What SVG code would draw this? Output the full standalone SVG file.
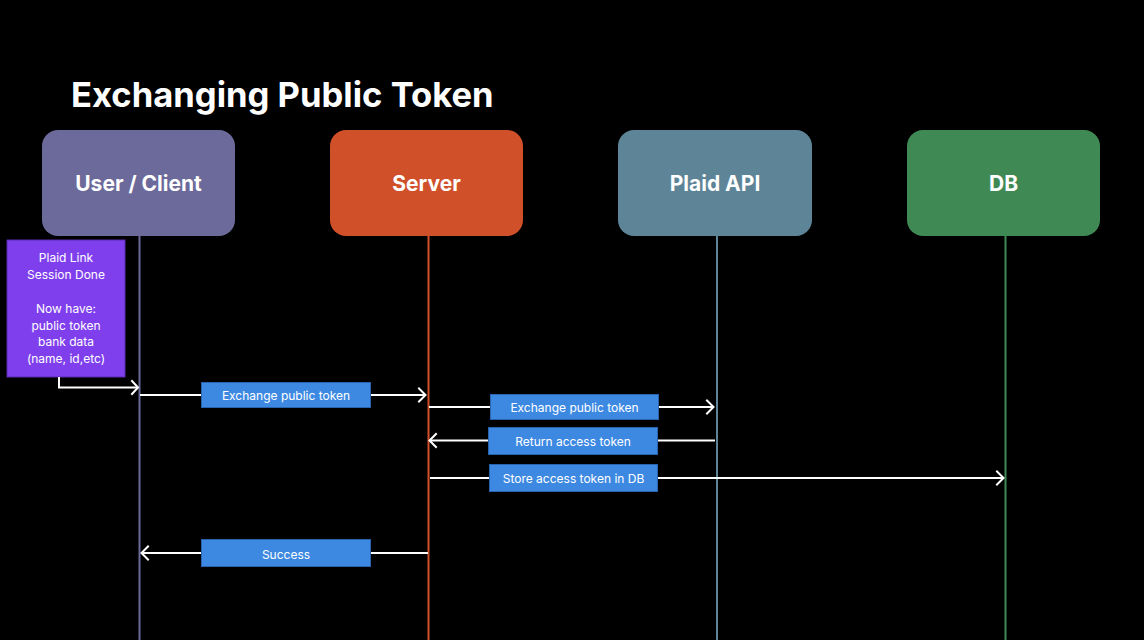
<svg xmlns="http://www.w3.org/2000/svg" width="1144" height="640" viewBox="0 0 1144 640">
<style>
.title{font-family:Inter,"Liberation Sans",sans-serif;font-weight:700;font-size:34.6px;fill:#fff}
.nl{font-family:Inter,"Liberation Sans",sans-serif;font-weight:700;font-size:21px;fill:#fff;text-anchor:middle;dominant-baseline:central}
.note{font-family:Inter,"Liberation Sans",sans-serif;font-size:12px;fill:#fff;text-anchor:middle}
.ml{font-family:Inter,"Liberation Sans",sans-serif;font-size:12px;fill:#fff;text-anchor:middle;dominant-baseline:central}
.lb{fill:#3D89E2;stroke:#2A64AE;stroke-width:1}
.msg{stroke:#fff;stroke-width:2;fill:none}
.ah{stroke:#fff;stroke-width:2;fill:none;stroke-linecap:square}
</style>
<rect width="1144" height="640" fill="#000"/>
<text class="title" x="71" y="107">Exchanging Public Token</text>
<g id="lifelines">
<line x1="139.5" y1="236" x2="139.5" y2="640" stroke="#6C6A9A" stroke-width="2"/>
<line x1="428.5" y1="236" x2="428.5" y2="640" stroke="#D0502A" stroke-width="2"/>
<line x1="717" y1="236" x2="717" y2="640" stroke="#5E8497" stroke-width="2"/>
<line x1="1005.5" y1="236" x2="1005.5" y2="640" stroke="#3F8A54" stroke-width="2"/>
</g>
<g id="node-user"><rect x="42" y="130" width="193" height="106" rx="16" fill="#6C6A9A"/><text class="nl" x="138.5" y="183">User / Client</text></g>
<g id="node-server"><rect x="330" y="130" width="193" height="106" rx="16" fill="#D0502A"/><text class="nl" x="426.5" y="183">Server</text></g>
<g id="node-plaid"><rect x="618" y="130" width="194" height="106" rx="16" fill="#5E8497"/><text class="nl" x="715" y="183">Plaid API</text></g>
<g id="node-db"><rect x="907" y="130" width="193" height="106" rx="16" fill="#3F8A54"/><text class="nl" x="1003.5" y="183">DB</text></g>
<g id="note">
<rect x="7" y="240" width="118" height="137" fill="#7F3FEC" stroke="#5A2BB0" stroke-width="1"/>
<text class="note" x="66" y="262">Plaid Link</text>
<text class="note" x="66" y="279">Session Done</text>
<text class="note" x="66" y="313">Now have:</text>
<text class="note" x="66" y="330">public token</text>
<text class="note" x="66" y="346">bank data</text>
<text class="note" x="66" y="363">(name, id,etc)</text>
</g>
<g id="connectors">
<polyline class="msg" points="59,377 59,387.5 137,387.5"/>
<polyline class="ah" points="132,381 138,387.5 132,394"/>
<line class="msg" x1="140" y1="395" x2="424" y2="395"/>
<polyline class="ah" points="419,388.5 425.5,395 419,401.5"/>
<line class="msg" x1="429" y1="407" x2="713" y2="407"/>
<polyline class="ah" points="707,400.5 713.5,407 707,413.5"/>
<line class="msg" x1="715" y1="440.5" x2="430" y2="440.5"/>
<polyline class="ah" points="436,434 429.5,440.5 436,447"/>
<line class="msg" x1="430" y1="478" x2="1003" y2="478"/>
<polyline class="ah" points="997,471.5 1003.5,478 997,484.5"/>
<line class="msg" x1="428" y1="553" x2="142" y2="553"/>
<polyline class="ah" points="148,546.5 141.5,553 148,559.5"/>
</g>
<g id="labels">
<rect class="lb" x="201.5" y="382.5" width="169" height="25"/><text class="ml" x="286" y="395">Exchange public token</text>
<rect class="lb" x="490.5" y="394.5" width="168" height="25"/><text class="ml" x="574.5" y="407">Exchange public token</text>
<rect class="lb" x="488.5" y="427.5" width="169" height="27"/><text class="ml" x="573" y="441">Return access token</text>
<rect class="lb" x="489.5" y="464.5" width="168" height="27"/><text class="ml" x="573.5" y="478">Store access token in DB</text>
<rect class="lb" x="201.5" y="539.5" width="169" height="27"/><text class="ml" x="286" y="554">Success</text>
</g>
</svg>
